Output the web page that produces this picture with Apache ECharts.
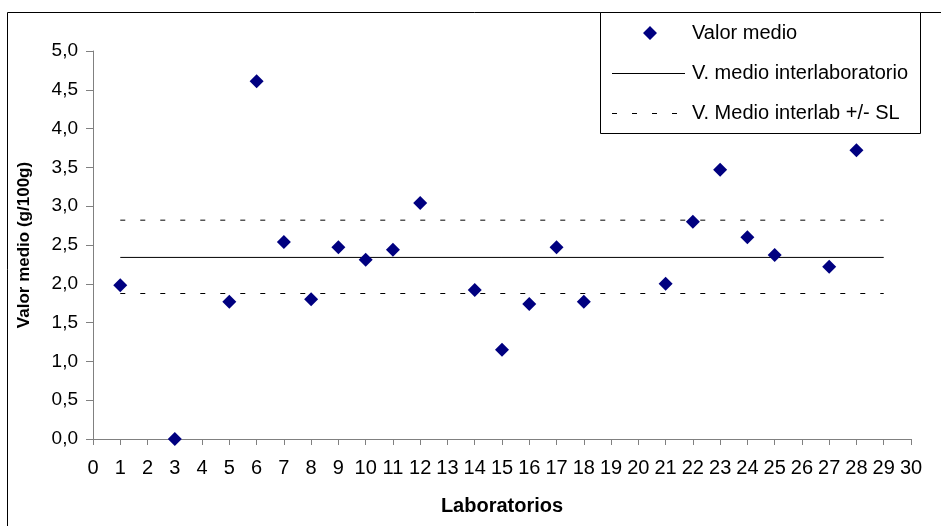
<!DOCTYPE html>
<html>
<head>
<meta charset="utf-8">
<script src="https://cdn.jsdelivr.net/npm/echarts@6/dist/echarts.min.js"></script>
<style>html,body{margin:0;padding:0;background:#fff;}#c{width:941px;height:526px;}</style>
</head>
<body>
<div id="c"></div>
<script>
const labs = [1, 3, 5, 6, 7, 8, 9, 10, 11, 12, 14, 15, 16, 17, 18, 21, 22, 23, 24, 25, 27, 28];
const values = [1.98, 0.0, 1.77, 4.61, 2.54, 1.80, 2.47, 2.31, 2.44, 3.04, 1.92, 1.15, 1.74, 2.47, 1.77, 2.00, 2.80, 3.47, 2.60, 2.37, 2.22, 3.72];
const labRange = [1, 29];
const meanValue = 2.34;
const upperSL = 2.82;
const lowerSL = 1.875;
const seriesNames = ['Valor medio', 'V. medio interlaboratorio', 'V. Medio interlab +/- SL'];

const font = 'Liberation Sans, Arial, sans-serif';
const chart = echarts.init(document.getElementById('c'));
const pts = labs.map((l, i) => [l, values[i]]);
const lineData = v => labRange.map(x => [x, v]);

// legend icons drawn inside a 75x15 box (corner anchors fix the box size)
const anchors = 'M0,0L0.01,0L0,0.01Z M75,15L74.99,15L75,14.99Z ';
const iconDiamond = 'path://' + anchors + 'M31,7.5L38,0.5L45,7.5L38,14.5Z';
const iconSolid = 'path://' + anchors + 'M0,7.5h73v1h-73z';
const iconDashed = 'path://' + anchors + 'M0,7.5h5v1h-5z M20,7.5h5v1h-5z M40,7.5h5v1h-5z M60,7.5h5v1h-5z';

chart.setOption({
  animation: false,
  backgroundColor: '#fff',
  grid: { left: 93, right: 30, top: 51, bottom: 87 },
  xAxis: {
    type: 'value', min: 0, max: 30, interval: 1,
    name: 'Laboratorios', nameLocation: 'middle', nameGap: 57,
    nameTextStyle: { fontFamily: font, fontSize: 20, fontWeight: 'bold', color: '#000' },
    axisLine: { show: true, lineStyle: { color: '#808080', width: 1 } },
    axisTick: { show: true, length: 6, lineStyle: { color: '#808080' } },
    axisLabel: { fontFamily: font, fontSize: 20, color: '#000', margin: 19 },
    splitLine: { show: false }
  },
  yAxis: {
    type: 'value', min: 0, max: 5, interval: 0.5,
    name: 'Valor medio (g/100g)', nameLocation: 'middle', nameGap: 60,
    nameTextStyle: { fontFamily: font, fontSize: 17, fontWeight: 'bold', color: '#000' },
    axisLine: { show: true, lineStyle: { color: '#808080', width: 1 } },
    axisTick: { show: true, length: 7, lineStyle: { color: '#808080' } },
    axisLabel: { fontFamily: font, fontSize: 19, color: '#000', margin: 15,
      formatter: v => v.toFixed(1).replace('.', ',') },
    splitLine: { show: false }
  },
  legend: {
    orient: 'vertical', left: 607, top: 18,
    itemWidth: 75, itemHeight: 15, itemGap: 20,
    itemStyle: { borderWidth: 0 },
    textStyle: { fontFamily: font, fontSize: 20, color: '#000' },
    data: [
      { name: seriesNames[0], icon: iconDiamond },
      { name: seriesNames[1], icon: iconSolid },
      { name: seriesNames[2], icon: iconDashed }
    ]
  },
  graphic: [
    { type: 'rect', shape: { x: 7.5, y: 12.5, width: 1000, height: 1000 }, style: { fill: 'none', stroke: '#000', lineWidth: 1 }, silent: true },
    { type: 'rect', shape: { x: 600.5, y: 12.5, width: 320, height: 121 }, style: { fill: '#fff', stroke: '#000', lineWidth: 1 }, silent: true, z: 0 }
  ],
  series: [
    {
      name: seriesNames[1], type: 'line', data: lineData(meanValue), symbol: 'none',
      lineStyle: { color: '#000', width: 1, type: 'solid' }, itemStyle: { color: '#000' }, z: 2
    },
    {
      name: seriesNames[2], type: 'line', data: lineData(upperSL), symbol: 'none',
      lineStyle: { color: '#000', width: 1, type: [5, 15] }, itemStyle: { color: '#000' }, z: 2
    },
    {
      name: seriesNames[2], type: 'line', data: lineData(lowerSL), symbol: 'none',
      lineStyle: { color: '#000', width: 1, type: [5, 15] }, itemStyle: { color: '#000' }, z: 2
    },
    {
      name: seriesNames[0], type: 'scatter', data: pts, symbol: 'diamond', symbolSize: 14,
      itemStyle: { color: '#000080', opacity: 1 }, z: 3
    }
  ]
});
</script>
</body>
</html>
